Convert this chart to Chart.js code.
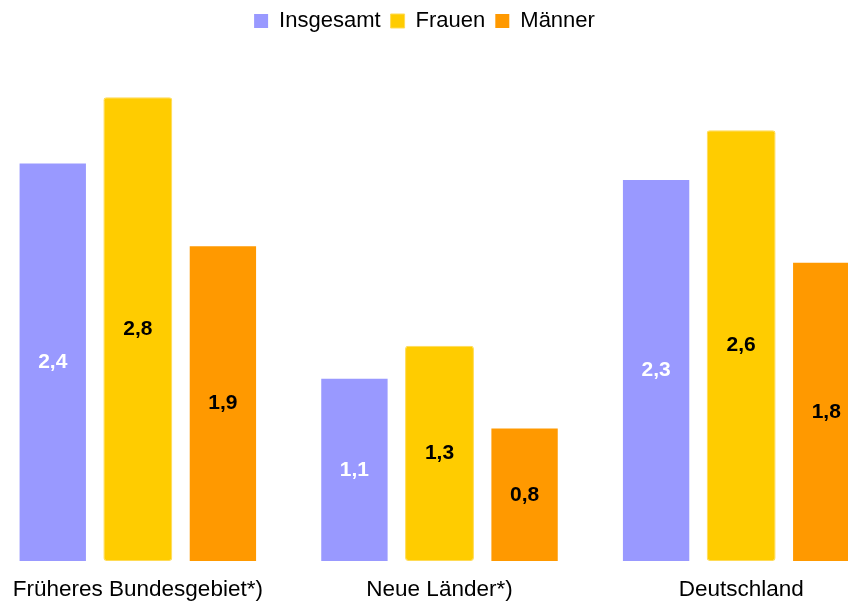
<!DOCTYPE html>
<html>
<head>
<meta charset="utf-8">
<script src="https://cdn.jsdelivr.net/npm/chart.js@4"></script>
<style>
  body { margin: 0; overflow: hidden; background: #fff; }
  #wrap { position: absolute; left: -13px; top: 0; width: 905px; height: 618px; }
</style>
</head>
<body>
<div id="wrap"><canvas id="chart"></canvas></div>
<script>
const categories = ['Früheres Bundesgebiet*)', 'Neue Länder*)', 'Deutschland'];
const seriesNames = ['Insgesamt', 'Frauen', 'Männer'];
const insgesamt = [2.4, 1.1, 2.3];
const frauen = [2.8, 1.3, 2.6];
const maenner = [1.9, 0.8, 1.8];
const colors = ['#9999FF', '#FFCC00', '#FF9900'];
const labelColors = ['#FFFFFF', '#000000', '#000000'];

Chart.defaults.font.family = '"Liberation Sans", Arial, sans-serif';
Chart.defaults.color = '#000';

// extra room under the legend, and keep it centred on the page
const legendSpacing = {
    id: 'legendSpacing',
    beforeInit(chart) {
        const fit = chart.legend.fit;
        chart.legend.fit = function () {
            fit.call(this);
            this.height += 22;
        };
    },
    afterLayout(chart) {
        chart.legend.left -= 15;
        chart.legend.right -= 15;
    }
};

// value written in the middle of each bar
const barValues = {
    id: 'barValues',
    afterDatasetsDraw(chart) {
        const ctx = chart.ctx;
        ctx.save();
        ctx.font = 'bold 21px "Liberation Sans", Arial, sans-serif';
        ctx.textAlign = 'center';
        ctx.textBaseline = 'middle';
        chart.data.datasets.forEach((ds, i) => {
            chart.getDatasetMeta(i).data.forEach((bar, j) => {
                ctx.fillStyle = labelColors[i];
                ctx.fillText(ds.data[j].toFixed(1).replace('.', ','), bar.x, (bar.y + bar.base) / 2);
            });
        });
        ctx.restore();
    }
};

const ctx = document.getElementById('chart').getContext('2d');
const chart = new Chart(ctx, {
    type: 'bar',
    data: {
        labels: categories,
        datasets: [
            { label: seriesNames[0], data: insgesamt, backgroundColor: colors[0], barPercentage: 0.78 },
            { label: seriesNames[1], data: frauen, backgroundColor: colors[1], borderColor: '#FFDB55', borderWidth: 1, borderRadius: 3, borderSkipped: false, barPercentage: 0.81 },
            { label: seriesNames[2], data: maenner, backgroundColor: colors[2], barPercentage: 0.78 }
        ]
    },
    options: {
        responsive: true,
        maintainAspectRatio: false,
        animation: false,
        datasets: { bar: { categoryPercentage: 0.846 } },
        layout: { padding: 0 },
        plugins: {
            legend: {
                position: 'top',
                labels: { boxWidth: 14, boxHeight: 14, padding: 10, font: { size: 22 } }
            },
            tooltip: { enabled: false }
        },
        scales: {
            x: {
                grid: { display: false, drawTicks: false },
                border: { display: false },
                ticks: { padding: 15, font: { size: 22.5 } }
            },
            y: { display: false, min: 0, max: 3 }
        }
    },
    plugins: [legendSpacing, barValues]
});
</script>
</body>
</html>
